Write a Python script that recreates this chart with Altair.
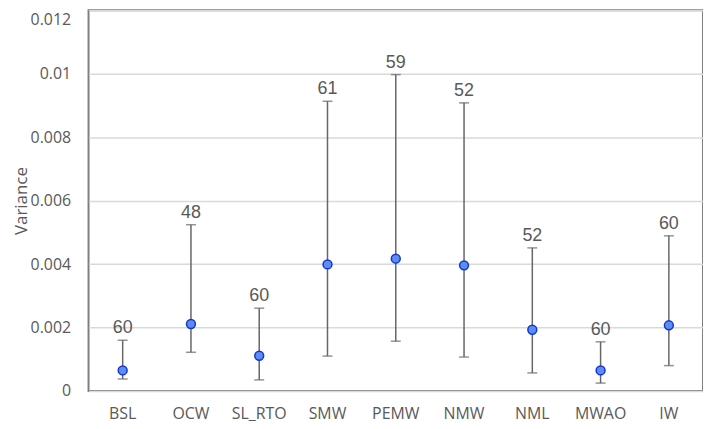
import altair as alt
import pandas as pd

categories = ["BSL", "OCW", "SL_RTO", "SMW", "PEMW", "NMW", "NML", "MWAO", "IW"]
means = [0.00065, 0.00211, 0.00111, 0.00399, 0.00417, 0.00396, 0.00193, 0.00065, 0.00207]
lowers = [0.00038, 0.00122, 0.00035, 0.00110, 0.00157, 0.00107, 0.00057, 0.00025, 0.00080]
uppers = [0.00160, 0.00524, 0.00261, 0.00913, 0.00997, 0.00908, 0.00451, 0.00155, 0.00489]
counts = [60, 48, 60, 61, 59, 52, 52, 60, 60]

df = pd.DataFrame({"cat": categories, "mean": means, "lo": lowers, "hi": uppers, "n": counts})

FONT = "Open Sans"
GRAY = "#595959"

x = alt.X("cat:N", sort=categories,
          scale=alt.Scale(paddingInner=0, paddingOuter=0),
          axis=alt.Axis(title=None, ticks=False, domain=False, labelAngle=0,
                        labelFont=FONT, labelFontSize=16, labelColor=GRAY, labelPadding=15))
yscale = alt.Scale(domain=[0, 0.012], nice=False, zero=True)
yaxis = alt.Axis(title="Variance", values=[0, 0.002, 0.004, 0.006, 0.008, 0.01, 0.012],
                 format="~g", ticks=False, domain=False, grid=True,
                 gridColor="#d9d9d9", gridWidth=1.5,
                 labelFont=FONT, labelFontSize=16, labelColor=GRAY, labelPadding=18,
                 labelOffset={"condition": {"test": "datum.value >= 0.012", "value": 9}, "value": 0},
                 titleFont=FONT, titleFontSize=17, titleColor=GRAY, titleFontWeight="normal",
                 titlePadding=0)

base = alt.Chart(df).encode(x=x)

rules = base.mark_rule(color="#666666", strokeWidth=1.5).encode(
    y=alt.Y("lo:Q", scale=yscale, axis=yaxis), y2="hi:Q")
cap_lo = base.mark_tick(color="#666666", thickness=1.5, size=10).encode(y=alt.Y("lo:Q", scale=yscale))
cap_hi = base.mark_tick(color="#666666", thickness=1.5, size=10).encode(y=alt.Y("hi:Q", scale=yscale))
dots = base.mark_point(filled=True, fill="#5b8ef0", stroke="#1533d6", strokeWidth=1.5,
                       size=80, shape="circle", opacity=1).encode(y=alt.Y("mean:Q", scale=yscale))
labels = base.mark_text(font="Liberation Sans", fontSize=18, color=GRAY, dy=-7,
                        baseline="alphabetic").encode(y=alt.Y("hi:Q", scale=yscale), text="n:Q")

chart = alt.layer(rules, cap_lo, cap_hi, dots, labels).properties(
    width=618, height=383,
    autosize=alt.AutoSizeParams(type="none"),
    padding={"left": 81, "top": 1, "right": 0, "bottom": 36},
).configure_view(stroke="#7f7f7f", strokeWidth=2)

chart.save("out.html", embed_options={"renderer": "svg", "actions": False})
